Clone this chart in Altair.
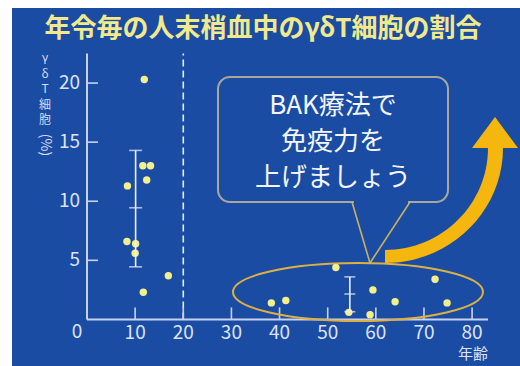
import altair as alt
import pandas as pd

# ---------------- data ----------------
young_age = [11.9, 11.6, 13.2, 12.4, 8.4, 8.3, 10.1, 10.0, 11.7, 16.9]
young_pct = [20.3, 13.0, 13.0, 11.8, 11.3, 6.6, 6.4, 5.6, 2.3, 3.7]
old_age = [38.3, 41.3, 51.7, 54.4, 58.8, 59.4, 64.0, 72.3, 74.8]
old_pct = [1.4, 1.6, 4.4, 0.6, 0.4, 2.5, 1.5, 3.4, 1.4]

group_age = [10.1, 54.6]
group_mean = [9.45, 2.15]
group_low = [4.45, 0.65]
group_high = [14.3, 3.6]
group_cap = [13, 11]

x_ticks = [10, 20, 30, 40, 50, 60, 70, 80]
y_ticks = [5, 10, 15, 20]

title_text = "年令毎の人末梢血中のγδT細胞の割合"
x_title = "年齢"
y_title_upright = "γ\nδ\nT\n細\n胞"
y_title_rotated = "(%)"
callout_lines = ["BAK療法で", "免疫力を", "上げましょう"]

# ---------------- styling ----------------
FONT = "Noto Sans CJK JP"
BLUE = "#1b4ca3"
AXIS = "#c9d1f0"
DOT = "#f3f08c"
GOLD = "#dcb042"
ORANGE = "#f5b60e"
W, H = 508, 358
PADL, PADT = 12, 8

XMIN, XMAX = -15.58, 89.95
YMIN, YMAX = -3.94, 26.35
XS = alt.Scale(domain=[XMIN, XMAX], nice=False, zero=False)
YS = alt.Scale(domain=[YMIN, YMAX], nice=False, zero=False)
PXU = W / (XMAX - XMIN)
PYU = H / (YMAX - YMIN)


def px(v):
    return v - PADL


def py(v):
    return v - PADT


def one():
    return pd.DataFrame({"a": [0]})


pts = pd.DataFrame({"age": young_age + old_age, "pct": young_pct + old_pct})
grp = pd.DataFrame({"age": group_age, "mean": group_mean, "low": group_low,
                    "high": group_high, "cap": group_cap})
xt = pd.DataFrame({"v": x_ticks, "y0": 0.0, "y1": 12 / PYU, "lab": [str(v) for v in x_ticks]})
yt = pd.DataFrame({"v": y_ticks, "x0": 0.0, "x1": 11 / PXU, "lab": [str(v) for v in y_ticks]})

layers = []

# callout box
layers.append(alt.Chart(one()).mark_rect(cornerRadius=12, fill=BLUE, stroke="#a9a89c", strokeWidth=2).encode(
    x=alt.value(px(218)), x2=alt.value(px(448)), y=alt.value(py(77)), y2=alt.value(py(202))))
layers.append(alt.Chart(one()).mark_rule(color=BLUE, strokeWidth=4).encode(
    x=alt.value(px(354)), x2=alt.value(px(408)), y=alt.value(py(202)), y2=alt.value(py(202))))

# dashed line at 20
layers.append(alt.Chart(pd.DataFrame({"x": [20], "y0": [0], "y1": [22.5]})).mark_rule(
    color="#e8ecf8", strokeWidth=1.6, strokeDash=[7, 4]).encode(
    x=alt.X("x:Q", scale=XS, axis=None), y=alt.Y("y0:Q", scale=YS, axis=None), y2="y1:Q"))

# axis lines
layers.append(alt.Chart(pd.DataFrame({"x0": [0], "x1": [83.3], "y": [0]})).mark_rule(
    color=AXIS, strokeWidth=2).encode(
    x=alt.X("x0:Q", scale=XS, axis=None), x2="x1:Q", y=alt.Y("y:Q", scale=YS, axis=None)))
layers.append(alt.Chart(pd.DataFrame({"x": [0], "y0": [0], "y1": [22.5]})).mark_rule(
    color=AXIS, strokeWidth=2).encode(
    x=alt.X("x:Q", scale=XS, axis=None), y=alt.Y("y0:Q", scale=YS, axis=None), y2="y1:Q"))

# ticks
layers.append(alt.Chart(xt).mark_rule(color=AXIS, strokeWidth=1.6).encode(
    x=alt.X("v:Q", scale=XS, axis=None), y=alt.Y("y0:Q", scale=YS, axis=None), y2="y1:Q"))
layers.append(alt.Chart(yt).mark_rule(color=AXIS, strokeWidth=1.6).encode(
    y=alt.Y("v:Q", scale=YS, axis=None), x=alt.X("x0:Q", scale=XS, axis=None), x2="x1:Q"))

# tick labels
layers.append(alt.Chart(xt).mark_text(font=FONT, fontSize=19, color="#dde3f6", baseline="middle", dy=14).encode(
    x=alt.X("v:Q", scale=XS, axis=None), y=alt.Y("y0:Q", scale=YS, axis=None), text="lab:N"))
layers.append(alt.Chart(yt).mark_text(font=FONT, fontSize=19, color="#dde3f6", baseline="middle", align="right", dx=-7).encode(
    y=alt.Y("v:Q", scale=YS, axis=None), x=alt.X("x0:Q", scale=XS, axis=None), text="lab:N"))
layers.append(alt.Chart(one()).mark_text(font=FONT, fontSize=19, color="#dde3f6", baseline="middle", text="0").encode(
    x=alt.value(px(77)), y=alt.value(py(332))))
layers.append(alt.Chart(one()).mark_text(font=FONT, fontSize=15, color="#dde3f6", baseline="middle", text=x_title).encode(
    x=alt.value(px(473)), y=alt.value(py(354))))

# y title (vertical: stacked upright glyphs + rotated "(%)")
layers.append(alt.Chart(one()).mark_text(font=FONT, fontSize=12, lineHeight=15.5, lineBreak="\n", color="#d6ddf4",
                                          baseline="top", text=y_title_upright).encode(
    x=alt.value(px(45)), y=alt.value(py(53))))
layers.append(alt.Chart(one()).mark_text(font=FONT, fontSize=14, color="#d6ddf4", baseline="middle", angle=90,
                                          text=y_title_rotated).encode(
    x=alt.value(px(45)), y=alt.value(py(145))))

# ellipse
ELL = "M -125 0 A 125 29 0 1 0 125 0 A 125 29 0 1 0 -125 0 Z"
layers.append(alt.Chart(one()).mark_point(shape=ELL, size=4, filled=False, stroke=GOLD, strokeWidth=2, opacity=1).encode(
    x=alt.value(px(358)), y=alt.value(py(292))))

# points
layers.append(alt.Chart(pts).mark_circle(size=55, color=DOT, opacity=1).encode(
    x=alt.X("age:Q", scale=XS, axis=None), y=alt.Y("pct:Q", scale=YS, axis=None)))

# error bars
layers.append(alt.Chart(grp).mark_rule(color="#eef0fa", strokeWidth=1.6).encode(
    x=alt.X("age:Q", scale=XS, axis=None), y=alt.Y("low:Q", scale=YS, axis=None), y2="high:Q"))
for fld in ["low", "high", "mean"]:
    layers.append(alt.Chart(grp).mark_tick(orient="horizontal", color="#eef0fa", thickness=1.6).encode(
        x=alt.X("age:Q", scale=XS, axis=None), y=alt.Y(f"{fld}:Q", scale=YS, axis=None),
        size=alt.Size("cap:Q", scale=None, legend=None)))

# callout tail
layers.append(alt.Chart(one()).mark_rule(color="#c9b25c", strokeWidth=1.6).encode(
    x=alt.value(px(352)), y=alt.value(py(202)), x2=alt.value(px(370)), y2=alt.value(py(263))))
layers.append(alt.Chart(one()).mark_rule(color="#c9b25c", strokeWidth=1.6).encode(
    x=alt.value(px(410)), y=alt.value(py(202)), x2=alt.value(px(370)), y2=alt.value(py(263))))

# arrow
ARROW = ("M 0 115 A 118 115 0 0 0 118 0 L 133 0 L 110 -31 L 87 0 L 103 0 "
         "A 103 102 0 0 1 0 102 Z")
layers.append(alt.Chart(one()).mark_point(shape=ARROW, size=4, filled=True, fill=ORANGE, strokeWidth=0, opacity=1).encode(
    x=alt.value(px(385)), y=alt.value(py(148))))

# callout text
for line, yy in zip(callout_lines, [106, 142, 178]):
    layers.append(alt.Chart(one()).mark_text(font=FONT, fontSize=26, color="#f4f6ff", baseline="middle", text=line).encode(
        x=alt.value(px(333)), y=alt.value(py(yy))))

# title
layers.append(alt.Chart(one()).mark_text(font=FONT, fontSize=26, fontWeight="bold", color="#f1e98c",
                                          baseline="middle", text=title_text).encode(
    x=alt.value(px(263)), y=alt.value(py(29))))

chart = alt.layer(*layers).properties(
    width=W, height=H, autosize="none",
    padding={"left": PADL, "top": PADT, "right": 0, "bottom": 0},
    background="white",
).configure_view(fill=BLUE, stroke=None)

chart.save("out.html", embed_options={"renderer": "svg", "actions": False})
